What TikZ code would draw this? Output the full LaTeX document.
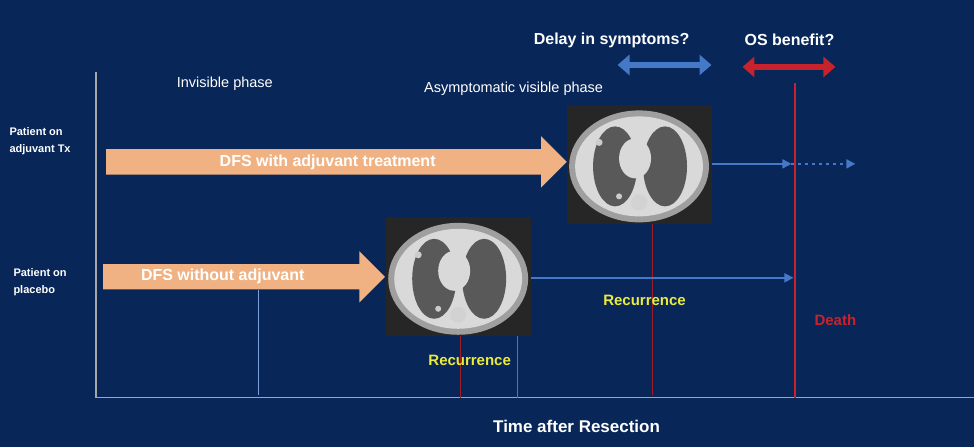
\documentclass[tikz,border=0pt]{standalone}
\usepackage{fontspec}
\setmainfont{Liberation Sans}
\usetikzlibrary{arrows.meta,shapes.arrows}
\definecolor{navy}{RGB}{8,38,88}
\definecolor{peach}{RGB}{240,178,130}
\definecolor{lblue}{RGB}{70,120,200}
\definecolor{dred}{RGB}{200,35,45}
\definecolor{yel}{RGB}{235,235,60}
\tikzset{
  lbl/.style={text=white,font=\fontsize{14.5}{17}\selectfont},
  hdr/.style={text=white,font=\bfseries\fontsize{16}{18}\selectfont},
  pat/.style={text=white,font=\bfseries\fontsize{11}{17}\selectfont,align=left,anchor=west},
  dfs/.style={single arrow,fill=peach,minimum height=#1,minimum width=50pt,
    single arrow head extend=13pt,single arrow tip angle=90,inner xsep=0pt,inner ysep=5pt,anchor=west,
    text=white,font=\bfseries\fontsize{16}{18}\selectfont},
  ct/.style={minimum width=145pt,minimum height=119pt,inner sep=0pt,fill=black!85},
  flow/.style={lblue,line width=1.6pt,-{Triangle[length=9pt,width=9pt]}},
  tick/.style={line width=1.2pt},
  word/.style={font=\bfseries\fontsize{15}{17}\selectfont},
  pics/lungs/.style={code={
    \fill[gray!75] (0,2) ellipse (70 and 56);
    \fill[gray!30] (0,2) ellipse (64 and 50);
    \fill[black!65] (-24,2) ellipse (22 and 40);
    \fill[black!65] (26,2) ellipse (22 and 40);
    \fill[gray!30] (-4,-6) ellipse (16 and 20);
    \fill[gray!35] (0,38) circle (8);
    \fill[gray!40] (-40,-22) circle (3.5);
    \fill[gray!40] (-20,32) circle (3);
  }}
}
\begin{document}
\begin{tikzpicture}[x=1pt,y=-1pt]
\fill[navy] (0,0) rectangle (975,447);
% axes
\draw[gray!70,line width=1.4pt] (96,72) -- (96,398) -- (975,398);
% phases
\node[lbl] (inv) at (225,84) {Invisible phase};
\node[lbl] (asy) at (514,89) {Asymptomatic visible phase};
\node[hdr] (delay) at (612,40) {Delay in symptoms?};
\node[hdr] (os) at (790,40) {OS benefit?};
\coordinate (d1) at (618,65); \coordinate (d2) at (712,65);
\coordinate (o1) at (743,67); \coordinate (o2) at (836,67);
\draw[lblue,line width=6pt,{Triangle[length=12pt,width=20pt]}-{Triangle[length=12pt,width=20pt]}] (d1) -- (d2);
\draw[dred,line width=6pt,{Triangle[length=12pt,width=20pt]}-{Triangle[length=12pt,width=20pt]}] (o1) -- (o2);
% patients
\node[pat] (adj) at (6,141) {Patient on\\adjuvant Tx};
\node[pat] (plc) at (10,282) {Patient on\\placebo};
% scans
\node[ct] (ctA) at (639.5,164.5) {};
\pic at (ctA) {lungs};
\node[ct] (ctB) at (458.5,277) {};
\pic at (ctB) {lungs};
% dfs arrows
\node[dfs=461pt] (dfsA) at (106,162) {\hspace{-5pt}DFS with adjuvant treatment};
\node[dfs=282pt] (dfsB) at (103,277) {\hspace{-30pt}DFS without adjuvant};
% recurrence markers
\draw[dred!80!black,tick] (ctA.south -| 653,0) -- (653,395);
\draw[dred!80!black,tick] (ctB.south -| 461,0) -- (461,398);
\draw[lblue,line width=0.8pt] (ctB.south -| 518,0) -- (518,398);
\draw[lblue!70,line width=0.6pt] (258,290) -- (258,395);
% flows
\coordinate (eA) at (792,164);
\coordinate (fA) at (856,164);
\coordinate (eB) at (794,278);
\draw[flow] (ctA.east |- eA) -- (eA);
\draw[flow,dash pattern=on 3pt off 4pt] (eA) -- (fA);
\draw[flow] (ctB.east |- eB) -- (eB);
% death line
\coordinate (dth) at (796,83); \coordinate (dthB) at (796,398);
\draw[draw=dred,line width=2pt] (dth) -- (dthB);
% labels
\node[word,text=yel] (recA) at (645,301) {Recurrence};
\node[word,text=yel] (recB) at (470,361) {Recurrence};
\node[word,text=dred] (death) at (836,320) {Death};
\node[hdr,font=\bfseries\fontsize{17}{19}\selectfont] (time) at (577,427) {Time after Resection};
\end{tikzpicture}
\end{document}
